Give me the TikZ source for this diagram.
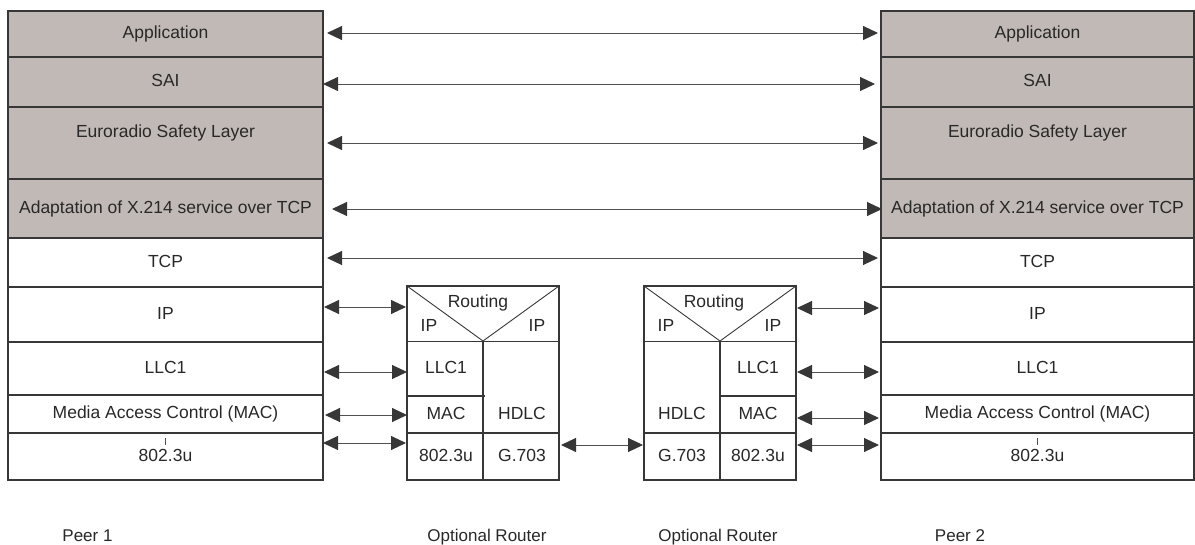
\documentclass[tikz,border=0pt]{standalone}
\usepackage{fontspec}
\setmainfont{Liberation Sans}
\usetikzlibrary{arrows.meta}
\definecolor{fillc}{RGB}{193,185,182}
\definecolor{linec}{RGB}{55,55,55}
\definecolor{textc}{RGB}{40,40,40}
\definecolor{shaftc}{RGB}{80,80,80}
\begin{document}
\begin{tikzpicture}[x=1pt,y=-1pt,
  every node/.style={text=textc, font=\fontsize{17.5}{20}\selectfont},
  layer/.style={draw=linec, line width=2pt, anchor=north west, inner sep=0pt, outer sep=0pt, text height=12.5pt, text depth=3.5pt},
  gl/.style={layer, fill=fillc},
  lw/.style={minimum width=315pt},
  rw/.style={minimum width=313pt},
  lbl/.style={inner sep=0pt, text height=12.5pt, text depth=3.5pt},
  capt/.style={anchor=base, inner sep=0pt, font=\fontsize{17}{20}\selectfont},
  frame/.style={draw=linec, line width=2pt},
  thinl/.style={draw=linec, line width=0.9pt},
  tickl/.style={draw=shaftc, line width=0.8pt},
  biarrow/.style={{Triangle[length=15pt,width=14pt,color=linec]}-{Triangle[length=15pt,width=14pt,color=linec]}, draw=shaftc, line width=1pt},
]
\useasboundingbox (0,0) rectangle (1195,544);

% ---- left stack
\node[gl, lw, minimum height=46pt] (lapp) at (8,11) {Application};
\node[gl, lw, minimum height=50pt] (lsai) at (8,57) {SAI};
\node[gl, lw, minimum height=72pt] (leur) at (8,107) {};
\node[lbl] (leurt) at (165.5,133) {Euroradio Safety Layer};
\node[gl, lw, minimum height=59pt] (lada) at (8,179) {Adaptation of X.214 service over TCP};
\node[layer, lw, minimum height=49pt] (ltcp) at (8,238) {TCP};
\node[layer, lw, minimum height=55pt] (lip) at (8,287) {IP};
\node[layer, lw, minimum height=53pt] (lllc) at (8,342) {LLC1};
\node[layer, lw, minimum height=38pt] (lmac) at (8,395) {Media Access Control (MAC)};
\node[layer, lw, minimum height=47pt] (lphy) at (8,433) {802.3u};
\draw[tickl] ([yshift=-5pt]lphy.north) -- ([yshift=-12pt]lphy.north);

% ---- right stack
\node[gl, rw, minimum height=46pt] (rapp) at (881,11) {Application};
\node[gl, rw, minimum height=50pt] (rsai) at (881,57) {SAI};
\node[gl, rw, minimum height=72pt] (reur) at (881,107) {};
\node[lbl] (reurt) at (1037.5,133) {Euroradio Safety Layer};
\node[gl, rw, minimum height=59pt] (rada) at (881,179) {Adaptation of X.214 service over TCP};
\node[layer, rw, minimum height=49pt] (rtcp) at (881,238) {TCP};
\node[layer, rw, minimum height=55pt] (rip) at (881,287) {IP};
\node[layer, rw, minimum height=53pt] (rllc) at (881,342) {LLC1};
\node[layer, rw, minimum height=38pt] (rmac) at (881,395) {Media Access Control (MAC)};
\node[layer, rw, minimum height=47pt] (rphy) at (881,433) {802.3u};
\draw[tickl] ([yshift=-5pt]rphy.north) -- ([yshift=-12pt]rphy.north);

% ---- router A
\node[frame, minimum width=152pt, minimum height=194pt, anchor=north west, inner sep=0pt, outer sep=0pt] (ra) at (407,286) {};
\coordinate (rav) at (483,341);
\coordinate (ral) at (485,396);
\coordinate (ram) at (559,433);
\draw[thinl] (ra.north west) -- (rav) -- (ra.north east);
\draw[thinl] (ra.west |- rav) -- (ra.east |- rav);
\draw[frame] (rav) -- (rav |- ra.south);
\draw[frame] (ra.west |- ral) -- (ral);
\draw[frame] (ra.west |- ram) -- (ram);
\node[lbl] (ra1) at (478,303) {Routing};
\node[lbl] (ra2) at (429,327) {IP};
\node[lbl] (ra3) at (537,327) {IP};
\node[lbl] (ra4) at (446,369) {LLC1};
\node[lbl] (ra5) at (446,415) {MAC};
\node[lbl] (ra6) at (522,415) {HDLC};
\node[lbl] (ra7) at (446,457) {802.3u};
\node[lbl] (ra8) at (522,457) {G.703};

% ---- router B
\node[frame, minimum width=152pt, minimum height=194pt, anchor=north west, inner sep=0pt, outer sep=0pt] (rb) at (644,286) {};
\coordinate (rbv) at (720,341);
\coordinate (rbl) at (720,396);
\coordinate (rbm) at (644,433);
\draw[thinl] (rb.north west) -- (rbv) -- (rb.north east);
\draw[thinl] (rb.west |- rbv) -- (rb.east |- rbv);
\draw[frame] (rbv) -- (rbv |- rb.south);
\draw[frame] (rbl) -- (rb.east |- rbl);
\draw[frame] (rbm) -- (rb.east |- rbm);
\node[lbl] (rb1) at (714,303) {Routing};
\node[lbl] (rb2) at (666,327) {IP};
\node[lbl] (rb3) at (773,327) {IP};
\node[lbl] (rb4) at (758,369) {LLC1};
\node[lbl] (rb5) at (682,415) {HDLC};
\node[lbl] (rb6) at (758,415) {MAC};
\node[lbl] (rb7) at (682,457) {G.703};
\node[lbl] (rb8) at (758,457) {802.3u};

% ---- peer-to-peer arrows
\draw[biarrow] ([xshift=4pt,yshift=1pt]lapp.east) -- ([xshift=-3pt,yshift=1pt]rapp.west);
\draw[biarrow] ([yshift=-2pt]lsai.east) -- ([xshift=-6pt,yshift=-2pt]rsai.west);
\draw[biarrow] ([xshift=4pt]leur.east) -- ([xshift=-3pt]reur.west);
\draw[biarrow] ([xshift=9pt,yshift=-0.5pt]lada.east) -- ([xshift=1pt,yshift=-0.5pt]rada.west);
\draw[biarrow] ([xshift=4pt,yshift=4.5pt]ltcp.east) -- ([xshift=-3pt,yshift=4.5pt]rtcp.west);

% ---- hop arrows left
\coordinate (a1) at ([xshift=1pt,yshift=7.5pt]lip.east);
\coordinate (a2) at ([xshift=1pt,yshift=-3.5pt]lllc.east);
\coordinate (a3) at ([xshift=2pt,yshift=-1pt]lmac.east);
\coordinate (a4) at ([yshift=13.5pt]lphy.east);
\draw[biarrow] (a1) -- ([xshift=-1pt]a1 -| ra.west);
\draw[biarrow] (a2) -- (a2 -| ra.west);
\draw[biarrow] (a3) -- (a3 -| ra.west);
\draw[biarrow] (a4) -- ([xshift=-1pt]a4 -| ra.west);
% ---- router to router
\coordinate (a5) at ([xshift=2pt,yshift=-62pt]ra.east);
\draw[biarrow] (a5) -- ([xshift=-1pt]a5 -| rb.west);
% ---- hop arrows right
\coordinate (b1) at ([xshift=1pt,yshift=6.5pt]rb.east |- rip.west);
\coordinate (b2) at ([xshift=1pt,yshift=-3.5pt]rb.east |- rllc.west);
\coordinate (b3) at ([xshift=1pt,yshift=-4pt]rb.east |- rmac.west);
\coordinate (b4) at ([xshift=1pt,yshift=11.5pt]rb.east |- rphy.west);
\draw[biarrow] (b1) -- ([xshift=-2pt]b1 -| rip.west);
\draw[biarrow] (b2) -- ([xshift=-2pt]b2 -| rllc.west);
\draw[biarrow] (b3) -- ([xshift=-2pt]b3 -| rmac.west);
\draw[biarrow] (b4) -- ([xshift=-2pt]b4 -| rphy.west);

% ---- captions
\node[capt] (c1) at (87.5,541) {Peer 1};
\node[capt] (c2) at (487,541) {Optional Router};
\node[capt] (c3) at (718,541) {Optional Router};
\node[capt] (c4) at (960,541) {Peer 2};
\end{tikzpicture}
\end{document}
